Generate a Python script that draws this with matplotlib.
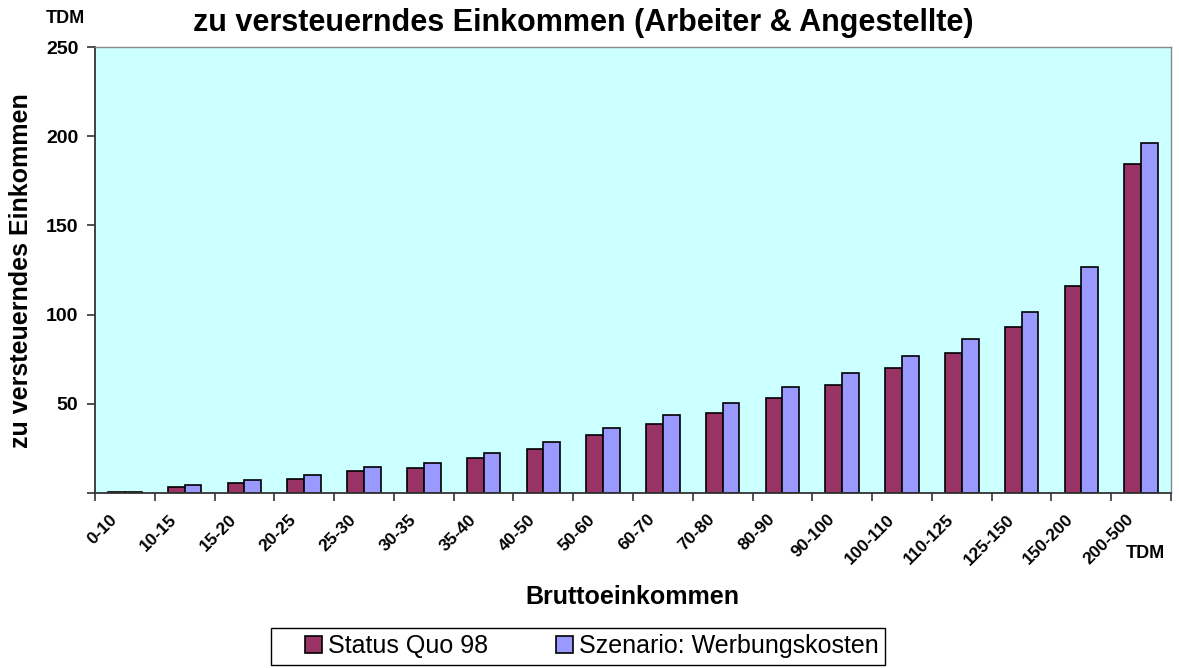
import matplotlib
matplotlib.use("Agg")
import matplotlib.pyplot as plt
import matplotlib.transforms as mtransforms
from matplotlib.patches import Rectangle
import numpy as np

categories = ["0-10", "10-15", "15-20", "20-25", "25-30", "30-35", "35-40", "40-50",
              "50-60", "60-70", "70-80", "80-90", "90-100", "100-110", "110-125",
              "125-150", "150-200", "200-500"]
status_quo = [0.4, 3.5, 5.8, 8.0, 12.3, 14.2, 19.4, 24.7, 32.3, 38.9, 44.8, 53.1,
              60.7, 69.9, 78.5, 92.9, 116.2, 184.4]
szenario = [0.6, 4.5, 7.5, 9.9, 14.4, 16.8, 22.4, 28.6, 36.3, 43.5, 50.3, 59.2,
            67.1, 77.0, 86.5, 101.6, 126.5, 196.4]
y_ticks = [0, 50, 100, 150, 200, 250]
y_tick_labels = ["", "50", "100", "150", "200", "250"]

plt.rcParams['font.family'] = ['Liberation Sans', 'DejaVu Sans']

W, H = 1179, 668
fig = plt.figure(figsize=(W / 100, H / 100), dpi=100)
ax = fig.add_axes([95 / W, 1 - 493 / H, (1171 - 95) / W, (493 - 47) / H])
ax.set_facecolor('#CCFFFF')

x = np.arange(len(categories))
w = 0.28
ax.bar(x - w/2, status_quo, w, color='#993366', edgecolor='black', linewidth=1.2,
       label='Status Quo 98')
ax.bar(x + w/2, szenario, w, color='#9999FF', edgecolor='black', linewidth=1.2,
       label='Szenario: Werbungskosten')

ax.set_xlim(-0.5, len(categories) - 0.5)
ax.set_ylim(0, 250)
ax.set_yticks(y_ticks)
ax.set_yticklabels(y_tick_labels, fontsize=14, fontweight='bold')

# category labels (rotated, Excel style)
ax.set_xticks(x)
ax.set_xticklabels([])
ax.tick_params(axis='x', which='major', length=0)
lbl_tr = ax.get_xaxis_transform() + mtransforms.ScaledTranslation(
    -10 / 100, -24 / 100, fig.dpi_scale_trans)
for xi, cat in zip(x, categories):
    ax.text(xi, 0, cat, transform=lbl_tr, rotation=45, ha='right', va='center',
            rotation_mode='anchor', fontsize=12.5, fontweight='bold', clip_on=False)

ax.set_xticks(np.arange(len(categories) + 1) - 0.5, minor=True)
ax.tick_params(axis='x', which='minor', length=6, direction='out', width=1.2, color='#333333')
ax.tick_params(axis='y', length=6, direction='out', width=1.2, color='#333333', pad=6)

for s in ['top', 'right']:
    ax.spines[s].set_color('#888888')
    ax.spines[s].set_linewidth(1.0)
for s in ['left', 'bottom']:
    ax.spines[s].set_color('#333333')
    ax.spines[s].set_linewidth(1.3)

fig.text(0.495, 0.966, 'zu versteuerndes Einkommen (Arbeiter & Angestellte)',
         ha='center', va='center', fontsize=22, fontweight='bold')
fig.text(65 / W, 1 - 18.5 / H, 'TDM', ha='center', va='center', fontsize=13,
         fontweight='bold')
fig.text(1145 / W, 1 - 553 / H, 'TDM', ha='center', va='center', fontsize=13,
         fontweight='bold')
fig.text(632.5 / W, 1 - 597 / H, 'Bruttoeinkommen', ha='center', va='center',
         fontsize=18, fontweight='bold')
fig.text(21 / W, 1 - 270.5 / H, 'zu versteuerndes Einkommen', ha='center',
         va='center', rotation=90, fontsize=18, fontweight='bold')

# legend frame (Excel-style box) and entries
fig.patches.append(Rectangle((271 / W, 1 - 665 / H), (885 - 271) / W, (665 - 628) / H,
                             transform=fig.transFigure, facecolor='white',
                             edgecolor='black', linewidth=1.0, zorder=1))
leg = fig.legend(loc='center left', bbox_to_anchor=(305 / W, 1 - 646.5 / H), ncol=2,
                 fontsize=18, frameon=False, handlelength=0.68, handleheight=0.68,
                 handletextpad=0.24, columnspacing=2.72, borderpad=0.0,
                 borderaxespad=0.0)
leg.set_zorder(2)

fig.savefig('out.png', dpi=100)
